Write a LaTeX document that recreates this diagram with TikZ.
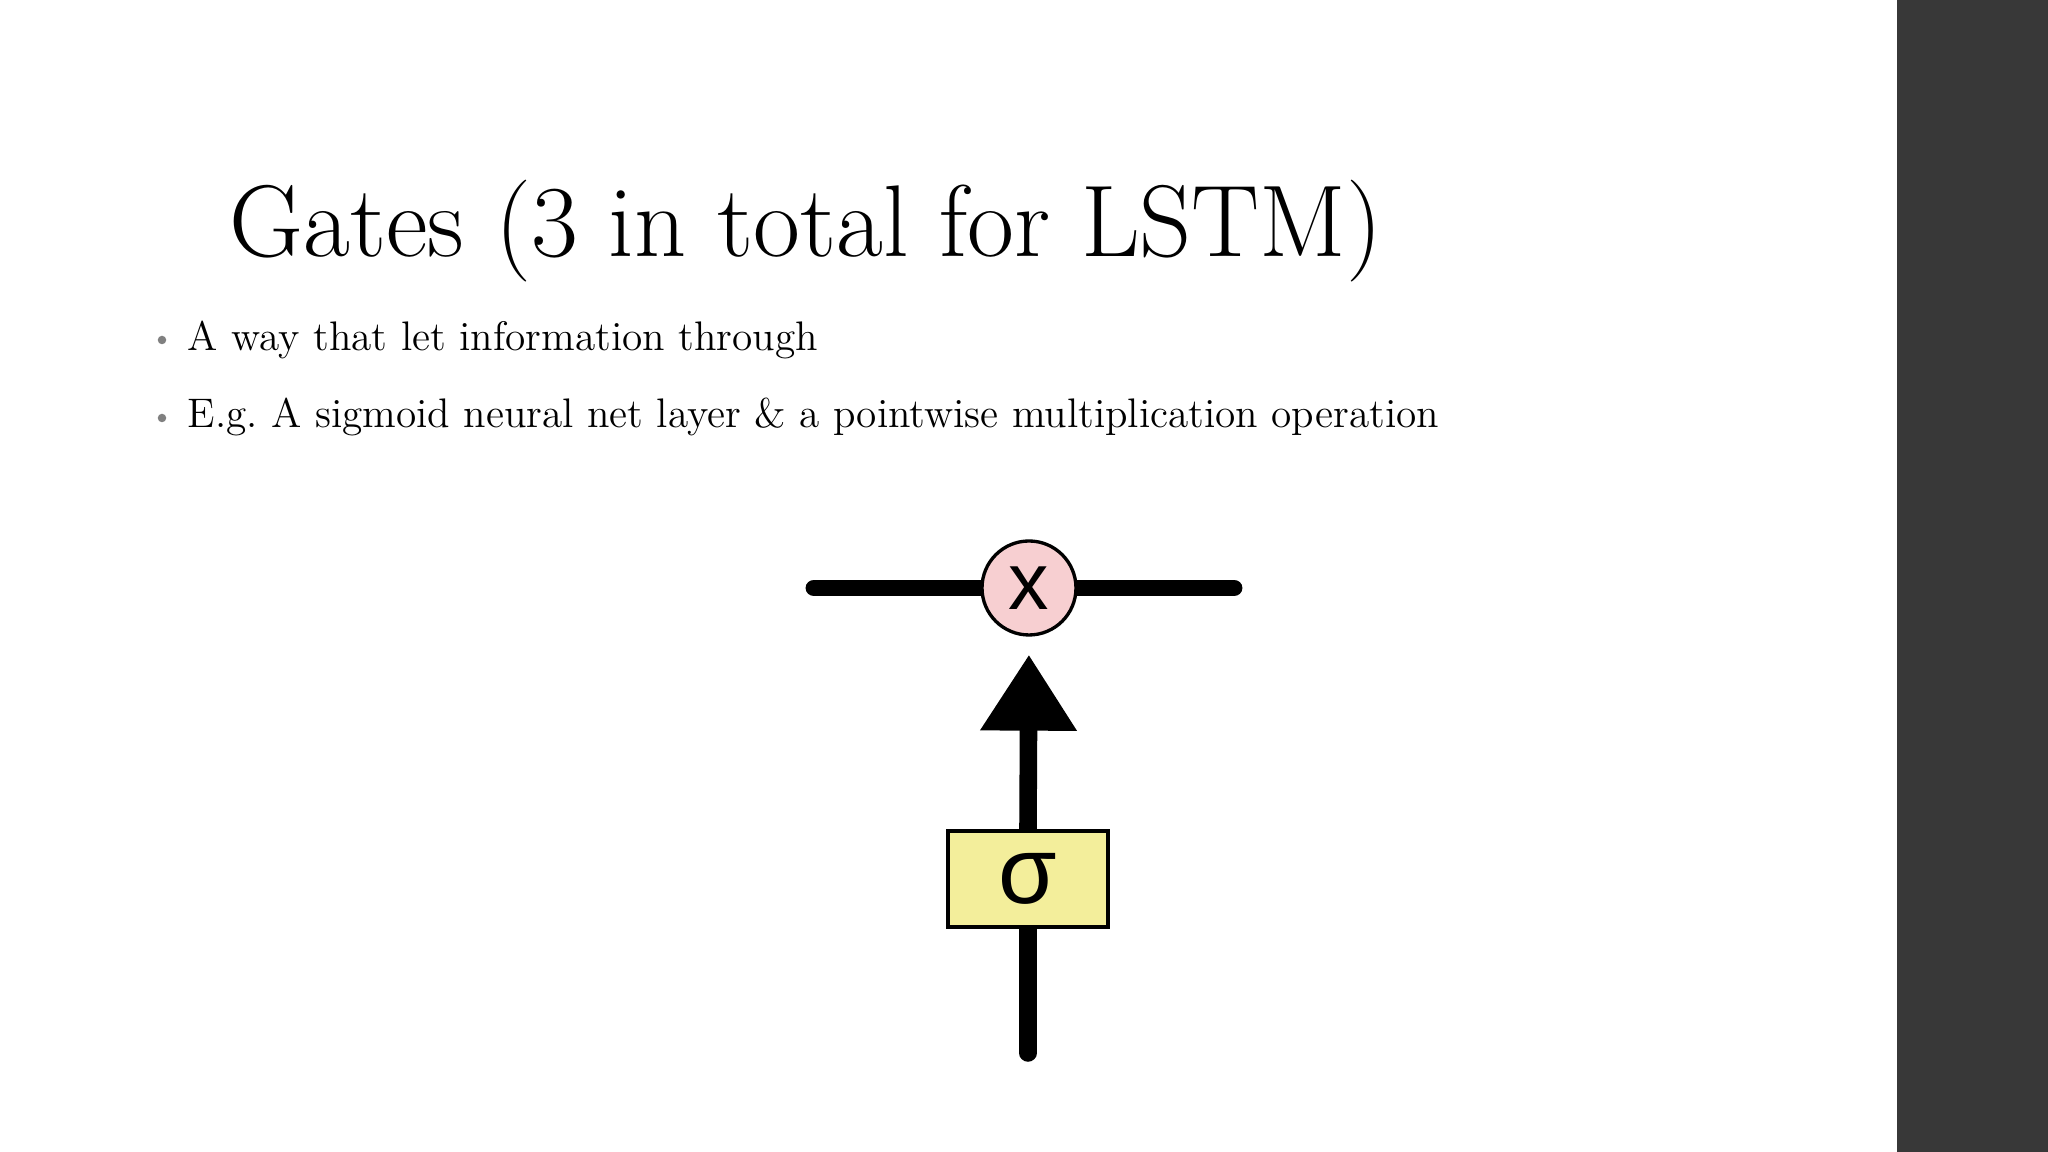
\documentclass[tikz,border=0pt]{standalone}
\usepackage{fontspec}
\newfontfamily\gatefont{Liberation Sans}
\usetikzlibrary{arrows.meta,backgrounds}
\definecolor{barGray}{HTML}{383838}
\definecolor{dotGray}{HTML}{808080}
\definecolor{mulPink}{HTML}{F7CFD1}
\definecolor{sigYellow}{HTML}{F3EE9B}

\begin{document}
\begin{tikzpicture}
 \tikzstyle{pipe}=[line width=4.8pt,line cap=round]
 \tikzstyle{pointwise}=[circle,draw,line width=0.95pt,fill=mulPink,minimum size=0.94cm,inner sep=0pt]
 \tikzstyle{layer}=[rectangle,draw,line width=1.1pt,fill=sigYellow,minimum width=1.6cm,minimum height=0.96cm,inner sep=0pt]
 \tikzstyle{bullet}=[circle,fill=dotGray,minimum size=0.085cm,inner sep=0pt]
\useasboundingbox (0,0) rectangle (20.48,11.52);
% slide text
\node[anchor=base west,inner sep=0pt] (title) at (2.29,8.95) {\fontsize{29}{34}\selectfont Gates (3 in total for LSTM)};
\node[bullet] (b1) at (1.62,8.12) {};
\node[anchor=base west,inner sep=0pt] (item1) at (1.87,8.01) {\fontsize{11.75}{14}\selectfont A way that let information through};
\node[bullet] (b2) at (1.62,7.34) {};
\node[anchor=base west,inner sep=0pt] (item2) at (1.87,7.24) {\fontsize{11.75}{14}\selectfont E.g.\ A sigmoid neural net layer \& a pointwise multiplication operation};
% gate
\node[pointwise] (mul) at (10.29,5.64) {\gatefont\fontsize{23}{23}\selectfont x};
\node[layer] (sig) at (10.28,2.73) {\gatefont\fontsize{27}{27}\selectfont σ};
\coordinate (cin) at (8.14,5.64);
\coordinate (cout) at (12.34,5.64);
\coordinate (xin) at (10.28,0.99);
\begin{scope}[on background layer]
\fill[white] (0,0) rectangle (18.97,11.52);
\fill[barGray] (18.97,0) rectangle (20.48,11.52);
\draw[pipe] (cin) -- (mul.center) -- (cout);
\draw[pipe,line width=5pt] (xin) -- (sig.center);
\end{scope}
\draw[line width=5pt,-{Triangle[length=0.76cm,width=0.92cm]},shorten >=0.18cm] (sig.north) -- (mul.south);
\end{tikzpicture}
\end{document}
